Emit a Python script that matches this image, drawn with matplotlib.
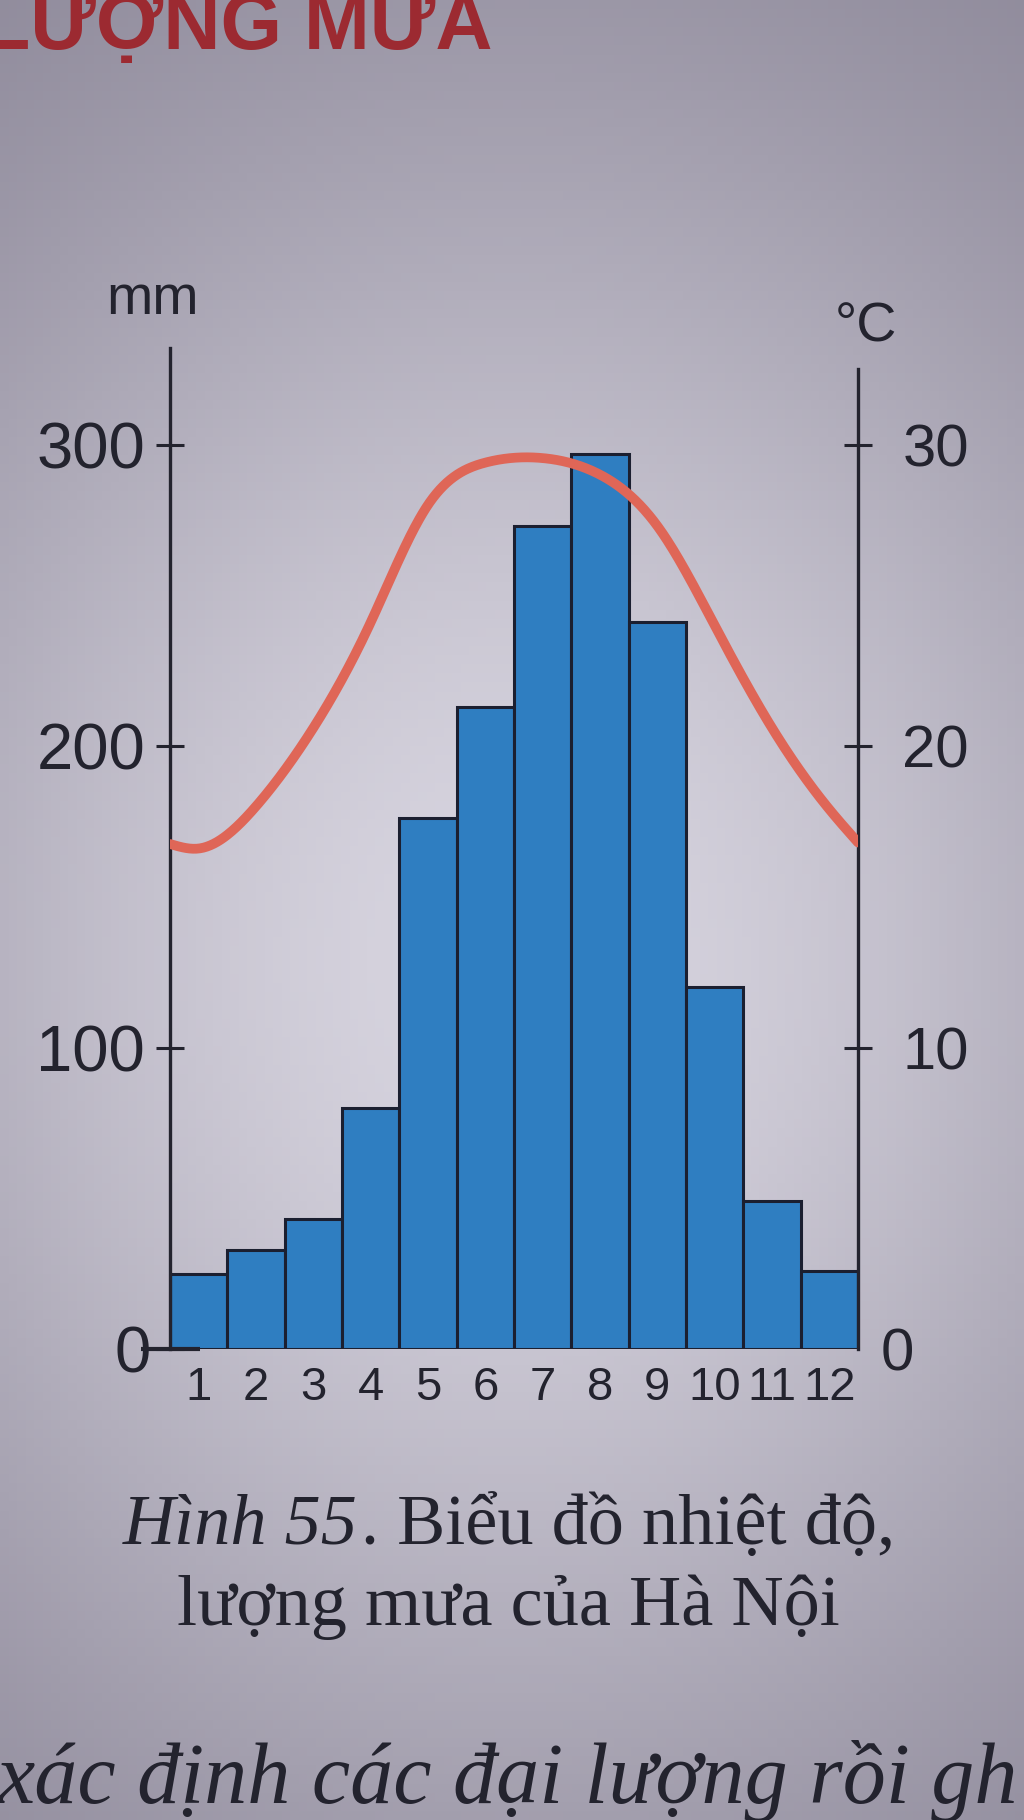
import numpy as np
import matplotlib.pyplot as plt

# data (Hà Nội)
months = [1, 2, 3, 4, 5, 6, 7, 8, 9, 10, 11, 12]
month_labels = ["1", "2", "3", "4", "5", "6", "7", "8", "9", "10", "11", "12"]
rain_mm = [25, 33, 43, 80, 176, 213, 273, 297, 241, 120, 49, 26]
temp_c = [16.6, 18.0, 20.6, 24.1, 28.0, 29.4, 29.55, 29.0, 27.3, 24.0, 20.6, 17.9]
temp_start = 16.75   # where the curve meets the left axis
temp_end = 16.8      # where the curve meets the right axis
rain_ticks = [0, 100, 200, 300]
temp_ticks = [0, 10, 20, 30]

W, H = 1024, 1820
fig = plt.figure(figsize=(W / 100, H / 100), dpi=100)

# paper background (photo look)
gy, gx = np.mgrid[0:1:200j, 0:1:120j]
light = np.exp(-((gx - 0.5) / 0.75) ** 2 - ((gy - 0.5) / 0.5) ** 2)
light = light * (0.8 + 0.2 * gy)
dark = np.array([0.50, 0.48, 0.55])
bright = np.array([0.88, 0.87, 0.91])
bg = dark + (bright - dark) * light[..., None]
ax_bg = fig.add_axes([0, 0, 1, 1], zorder=-10)
ax_bg.imshow(bg, extent=[0, 1, 0, 1], aspect="auto", origin="upper")
ax_bg.axis("off")

ink = "#23232e"
font = ["Liberation Sans", "DejaVu Sans"]
serif = ["Liberation Serif", "DejaVu Serif"]

ax = fig.add_axes([170 / W, 1 - 1349 / H, 688 / W, (1349 - 339) / H])
ax.set_facecolor("none")
ax.bar(months, rain_mm, width=1.0, color="#2f7ec1", edgecolor="#1b1f30", linewidth=2.2, zorder=2)
ax.set_xlim(0.5, 12.5)
ax.set_ylim(0, 335)

for s in ["top", "right", "bottom"]:
    ax.spines[s].set_visible(False)
ax.spines["left"].set_bounds(0, 332)
ax.spines["left"].set_linewidth(2.4)
ax.spines["left"].set_color(ink)
ax.plot([-0.012, 1.028], [0, 0], transform=ax.get_xaxis_transform(), color=ink,
        lw=3, clip_on=False, zorder=5, solid_capstyle="butt")

ax.set_yticks(rain_ticks)
ax.set_yticklabels([str(v) for v in rain_ticks], family=font, fontsize=47, color=ink)
ax.tick_params(axis="y", direction="inout", length=20, width=2.2, color=ink, pad=8)
ax.yaxis.get_major_ticks()[0].tick1line.set_visible(False)
ax.yaxis.get_major_ticks()[0].set_pad(4)

ax.set_xticks(months)
ax.set_xticklabels(month_labels, family=font, fontsize=34, color=ink)
ax.tick_params(axis="x", length=0, pad=12)

# temperature curve on the right axis
ax2 = ax.twinx()
ax2.set_facecolor("none")
ax2.set_ylim(0, 33.5)
for s in ["top", "left", "bottom"]:
    ax2.spines[s].set_visible(False)
ax2.spines["right"].set_bounds(0, 32.5)
ax2.spines["right"].set_linewidth(2.4)
ax2.spines["right"].set_color(ink)
ax2.set_yticks(temp_ticks)
ax2.set_yticklabels([str(v) for v in temp_ticks], family=font, fontsize=43, color=ink)
ax2.tick_params(axis="y", direction="inout", length=20, width=2.2, color=ink, pad=22)
ax2.yaxis.get_major_ticks()[0].tick2line.set_visible(False)
ax2.yaxis.get_major_ticks()[0].set_pad(6)

# natural cubic spline through the monthly values for a smooth line
xs = np.array([0.5] + months + [12.5], dtype=float)
ys = np.array([temp_start] + temp_c + [temp_end], dtype=float)
n = len(xs)
hs = np.diff(xs)
A = np.zeros((n, n))
b = np.zeros(n)
A[0, 0] = A[-1, -1] = 1
for k in range(1, n - 1):
    A[k, k - 1] = hs[k - 1]
    A[k, k] = 2 * (hs[k - 1] + hs[k])
    A[k, k + 1] = hs[k]
    b[k] = 6 * ((ys[k + 1] - ys[k]) / hs[k] - (ys[k] - ys[k - 1]) / hs[k - 1])
M = np.linalg.solve(A, b)
xx = np.linspace(xs[0], xs[-1], 600)
i = np.clip(np.searchsorted(xs, xx) - 1, 0, n - 2)
h = hs[i]
a = xs[i + 1] - xx
c = xx - xs[i]
yy = (M[i] * a**3 / (6 * h) + M[i + 1] * c**3 / (6 * h)
      + (ys[i] / h - M[i] * h / 6) * a + (ys[i + 1] / h - M[i + 1] * h / 6) * c)
ax2.plot(xx, yy, color="#df6657", lw=7, solid_capstyle="round", zorder=4)

# unit labels
fig.text(153 / W, 1 - 300 / H, "mm", family=font, fontsize=40, color=ink, ha="center", va="center")
fig.text(866 / W, 1 - 327 / H, "°C", family=font, fontsize=40, color=ink, ha="center", va="center")

# heading cut at the top of the page
fig.text(493 / W, 1 - 49 / H, "LƯỢNG MƯA", family=font,
         fontsize=57, fontweight="bold", color="#9c2a31", ha="right", va="baseline")

# caption
r = fig.canvas.get_renderer()
t1 = fig.text(0, 1 - 1544 / H, "Hình 55", family=serif, style="italic", fontsize=52,
              color=ink, ha="left", va="baseline")
t2 = fig.text(0, 1 - 1544 / H, ". Biểu đồ nhiệt độ,", family=serif, fontsize=52,
              color=ink, ha="left", va="baseline")
w1 = t1.get_window_extent(r).width
w2 = t2.get_window_extent(r).width
x0 = 507 - (w1 + w2) / 2
t1.set_x(x0 / W)
t2.set_x((x0 + w1 + 4) / W)
fig.text(508 / W, 1 - 1625 / H, "lượng mưa của Hà Nội", family=serif, fontsize=52,
         color=ink, ha="center", va="baseline")

fig.text(-4 / W, 1 - 1803 / H, "xác định các đại lượng rồi gh", family=serif, style="italic",
         fontsize=62, color=ink, ha="left", va="baseline")

fig.savefig("out.png", dpi=100)
